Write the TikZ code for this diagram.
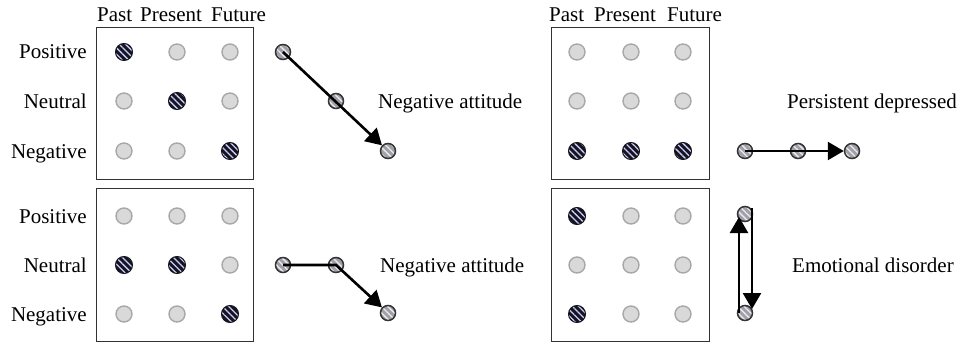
\documentclass[tikz,border=0pt]{standalone}
\usepackage{fontspec}
\setmainfont{Liberation Serif}
\usetikzlibrary{patterns.meta,arrows.meta}
\definecolor{lightfill}{HTML}{D9D9D9}
\definecolor{lightdraw}{HTML}{A8A8A8}
\definecolor{darkfill}{HTML}{15151F}
\definecolor{midfill}{HTML}{A0A0AA}
\definecolor{boxcol}{HTML}{333333}
\begin{document}
\begin{tikzpicture}[x=1pt,y=-1pt,
  empty/.style={circle, draw=lightdraw, fill=lightfill, line width=1.4pt, minimum size=16pt, inner sep=0pt},
  full/.style={circle, draw=darkfill, line width=1pt, minimum size=17pt, inner sep=0pt,
    preaction={fill=darkfill}, pattern={Lines[angle=-45,distance=4.5pt,line width=1.3pt]}, pattern color=white!80!blue},
  state/.style={circle, draw=boxcol, line width=1.5pt, minimum size=15pt, inner sep=0pt,
    preaction={fill=midfill}, pattern={Lines[angle=-45,distance=4.5pt,line width=1.3pt]}, pattern color=white!85!gray},
  panel/.style={draw=boxcol, line width=1.3pt, anchor=north west, inner sep=0pt},
  lbl/.style={font=\fontsize{21}{25}\selectfont, inner sep=0pt},
  arr/.style={line width=2.6pt, -{Triangle[length=16pt,width=18pt]}}]
\useasboundingbox (0,0) rectangle (961,345);

% panels
\node[panel, minimum width=157pt, minimum height=152pt] (P1) at (96,27) {};
\node[panel, minimum width=157pt, minimum height=153pt] (P2) at (96,188) {};
\node[panel, minimum width=158pt, minimum height=152pt] (P3) at (551,27) {};
\node[panel, minimum width=158pt, minimum height=153pt] (P4) at (551,188) {};

% headers
\node[lbl, anchor=base west] (h1) at (97,22) {Past};
\node[lbl, anchor=base west] (h2) at (140,22) {Present};
\node[lbl, anchor=base west] (h3) at (211,22) {Future};
\node[lbl, anchor=base west] (h4) at (549,22) {Past};
\node[lbl, anchor=base west] (h5) at (594,22) {Present};
\node[lbl, anchor=base west] (h6) at (667,22) {Future};

% row labels
\node[lbl, anchor=base east] (r1) at (87,59) {Positive};
\node[lbl, anchor=base east] (r2) at (87,108) {Neutral};
\node[lbl, anchor=base east] (r3) at (87,158) {Negative};
\node[lbl, anchor=base east] (r4) at (87,223) {Positive};
\node[lbl, anchor=base east] (r5) at (87,272) {Neutral};
\node[lbl, anchor=base east] (r6) at (87,321) {Negative};

% panel 1 dots
\node[full]  (g11) at (124,52) {};
\node[empty] (g12) at (177,52) {};
\node[empty] (g13) at (230,52) {};
\node[empty] (g14) at (124,101) {};
\node[full]  (g15) at (177,101) {};
\node[empty] (g16) at (230,101) {};
\node[empty] (g17) at (124,151) {};
\node[empty] (g18) at (177,151) {};
\node[full]  (g19) at (230,151) {};
% panel 2 dots
\node[empty] (g21) at (124,216) {};
\node[empty] (g22) at (177,216) {};
\node[empty] (g23) at (230,216) {};
\node[full]  (g24) at (124,265) {};
\node[full]  (g25) at (177,265) {};
\node[empty] (g26) at (230,265) {};
\node[empty] (g27) at (124,314) {};
\node[empty] (g28) at (177,314) {};
\node[full]  (g29) at (230,314) {};
% panel 3 dots
\node[empty] (g31) at (577,52) {};
\node[empty] (g32) at (631,52) {};
\node[empty] (g33) at (683,52) {};
\node[empty] (g34) at (577,101) {};
\node[empty] (g35) at (631,101) {};
\node[empty] (g36) at (683,101) {};
\node[full]  (g37) at (577,151) {};
\node[full]  (g38) at (631,151) {};
\node[full]  (g39) at (683,151) {};
% panel 4 dots
\node[full]  (g41) at (577,216) {};
\node[empty] (g42) at (631,216) {};
\node[empty] (g43) at (683,216) {};
\node[empty] (g44) at (577,265) {};
\node[empty] (g45) at (631,265) {};
\node[empty] (g46) at (683,265) {};
\node[full]  (g47) at (577,314) {};
\node[empty] (g48) at (631,314) {};
\node[empty] (g49) at (683,314) {};

% trajectory states
\node[state] (a1) at (283,52) {};
\node[state] (a2) at (336,101) {};
\node[state] (a3) at (388,151) {};
\node[state] (b1) at (283,265) {};
\node[state] (b2) at (336,265) {};
\node[state] (b3) at (388,313) {};
\node[state] (c1) at (745,151) {};
\node[state] (c2) at (798,151) {};
\node[state] (c3) at (852,151) {};
\node[state] (d1) at (745,214) {};
\node[state] (d2) at (745,313) {};

% arrows
\draw[arr] (a1.center) -- (a3);
\draw[arr] (b1.center) -- (b2.center) -- (b3);
\draw[arr] (c1.center) -- (c3);
\draw[arr] ([xshift=-6pt]d2.center) -- ([xshift=-6pt,yshift=-3pt]d1.center);
\draw[arr] ([xshift=7pt,yshift=6pt]d1.center) -- ([xshift=7pt,yshift=4pt]d2.center);

% trajectory labels
\node[lbl, anchor=base west] (t1) at (378,108) {Negative attitude};
\node[lbl, anchor=base west] (t2) at (380,272) {Negative attitude};
\node[lbl, anchor=base west] (t3) at (787,108) {Persistent depressed};
\node[lbl, anchor=base west] (t4) at (792,272) {Emotional disorder};
\end{tikzpicture}
\end{document}
